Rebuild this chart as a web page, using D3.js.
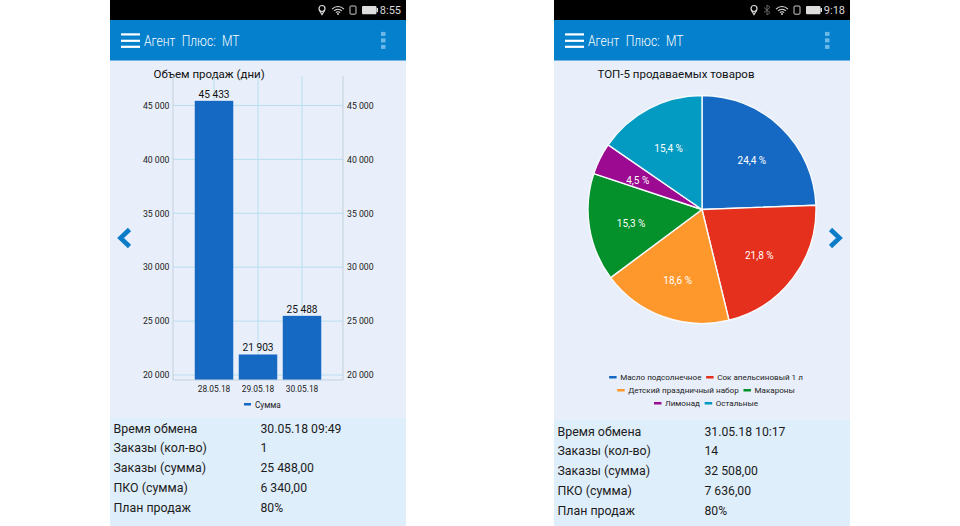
<!DOCTYPE html>
<html><head><meta charset="utf-8">
<script src="https://cdn.jsdelivr.net/npm/d3@7"></script>
<style>html,body{margin:0;padding:0;background:#fff}svg{display:block}text{font-family:Roboto,sans-serif}</style>
</head><body><svg id="c" width="960" height="526"></svg>
<script>
const barDates = ["28.05.18","29.05.18","30.05.18"];
const barValues = [45433,21903,25488];
const yTicks = [20000,25000,30000,35000,40000,45000];
const barSeries = "Сумма";
const pieNames = ["Масло подсолнечное","Сок апельсиновый 1 л","Детский праздничный набор","Макароны","Лимонад","Остальные"];
const pieValues = [24.4,21.8,18.6,15.3,4.5,15.4];
const pieColors = ["#1569c2","#e4301c","#ff982c","#04902a","#9b0a90","#039bc2"];
const legendRows = [[0,1],[2,3],[4,5]];
const rowLabels = ["Время обмена","Заказы (кол-во)","Заказы (сумма)","ПКО (сумма)","План продаж"];
const leftInfo = ["30.05.18 09:49","1","25 488,00","6 340,00","80%"];
const rightInfo = ["31.05.18 10:17","14","32 508,00","7 636,00","80%"];
const fmt = v => d3.format(",")(v).replace(/,/g," ");
const svg = d3.select("#c");

function phone(x0, w, time, title, infoY, info, bt){
  const g = svg.append("g");
  g.append("rect").attr("x",x0).attr("y",0).attr("width",w).attr("height",526).attr("fill","#e8effa");
  g.append("rect").attr("x",x0).attr("y",0).attr("width",w).attr("height",20).attr("fill","#000");
  g.append("rect").attr("x",x0).attr("y",20).attr("width",w).attr("height",40.5).attr("fill","#0480cc");
  g.append("text").attr("x",x0+291).attr("y",14).attr("text-anchor","end").attr("font-size",11).attr("fill","#d8d8d8").text(time);
  // status icons
  const ix = x0+(bt?200:212);
  g.append("circle").attr("cx",ix).attr("cy",8.5).attr("r",3).attr("fill","none").attr("stroke","#ddd").attr("stroke-width",1.2);
  g.append("path").attr("d",`M${ix-2.6} 10.3L${ix} 14.5L${ix+2.6} 10.3`).attr("fill","none").attr("stroke","#ddd").attr("stroke-width",1.2);
  const wc = x0+228;
  [8,5.3,2.8].forEach(r=>g.append("path")
    .attr("d",`M${wc-r*0.74} ${14.5-r*0.67}A${r} ${r} 0 0 1 ${wc+r*0.74} ${14.5-r*0.67}`)
    .attr("fill","none").attr("stroke","#ddd").attr("stroke-width",1.1));
  g.append("circle").attr("cx",wc).attr("cy",14).attr("r",0.9).attr("fill","#ddd");
  g.append("rect").attr("x",x0+240).attr("y",6).attr("width",6).attr("height",8.2).attr("rx",1).attr("fill","none").attr("stroke","#ccc").attr("stroke-width",1);
  g.append("rect").attr("x",x0+252).attr("y",6).attr("width",14.5).attr("height",8.2).attr("rx",1).attr("fill","#ddd");
  g.append("rect").attr("x",x0+266.5).attr("y",8).attr("width",1.5).attr("height",4).attr("fill","#ddd");
  if(bt) g.append("path").attr("d",`M${x0+210} 7.5L${x0+216} 12.5L${x0+213} 15V5L${x0+216} 7.5L${x0+210} 12.5`).attr("fill","none").attr("stroke","#666").attr("stroke-width",1);
  // menu
  [34.3,40.7,46.7].forEach(y=>g.append("rect").attr("x",x0+11).attr("y",y-1).attr("width",19).attr("height",2.2).attr("fill","#fff"));
  g.append("text").attr("x",x0+34).attr("y",45.5).attr("font-size",14.5).attr("font-family","'Open Sans',sans-serif").attr("font-weight",300).attr("fill","#fff")
    .attr("word-spacing",4).attr("textLength",95.5).attr("lengthAdjust","spacingAndGlyphs").text("Агент Плюс: МТ");
  [33.5,40,46.5].forEach(y=>g.append("rect").attr("x",x0+271).attr("y",y-1.6).attr("width",4.5).attr("height",4).attr("fill","#6cb8e8"));
  g.append("text").attr("x",x0+43.5).attr("y",77.5).attr("font-size",11.5).attr("fill","#111").text(title);
  // info
  g.append("rect").attr("x",x0).attr("y",infoY).attr("width",w).attr("height",526-infoY).attr("fill","#dfeefb");
  rowLabels.forEach((t,i)=>{
    const yy = infoY+14.5+(bt?1:0)+i*19.75;
    g.append("text").attr("x",x0+3.5).attr("y",yy).attr("font-size",12.4).attr("fill","#1c1c1c").text(t);
    g.append("text").attr("x",x0+150.5).attr("y",yy).attr("font-size",12.2).attr("fill","#1c1c1c").text(info[i]);
  });
}
phone(110,296,"8:55","Объем продаж (дни)",418,leftInfo,false);
phone(554,296,"9:18","ТОП-5 продаваемых товаров",420,rightInfo,true);

// Bar chart
const y = d3.scaleLinear().domain([20000,45000]).range([375,105.5]);
const x = d3.scaleBand().domain(barDates).range([192,324]).paddingInner(0.125).paddingOuter(0.0625);
const baseY = 380, topY = 76, L = 173, R = 343;
const b = svg.append("g");
b.selectAll("line.h").data(yTicks).join("line").attr("class","h")
  .attr("x1",L).attr("x2",R).attr("y1",d=>y(d)).attr("y2",d=>y(d)).attr("stroke","#b8def0").attr("stroke-width",1);
b.selectAll("line.v").data(barDates).join("line").attr("class","v")
  .attr("x1",d=>x(d)+x.bandwidth()/2).attr("x2",d=>x(d)+x.bandwidth()/2).attr("y1",topY).attr("y2",baseY)
  .attr("stroke","#b8def0").attr("stroke-width",1);
b.selectAll("rect.bar").data(barDates).join("rect").attr("class","bar")
  .attr("x",d=>x(d)).attr("width",x.bandwidth())
  .attr("y",(d,i)=>y(barValues[i])).attr("height",(d,i)=>baseY-y(barValues[i]))
  .attr("fill",pieColors[0]);
b.selectAll("text.val").data(barDates).join("text").attr("class","val")
  .attr("x",d=>x(d)+x.bandwidth()/2).attr("y",(d,i)=>y(barValues[i])-3)
  .attr("text-anchor","middle").attr("font-size",10.2).attr("fill","#111").text((d,i)=>fmt(barValues[i]));
[L,R].forEach(px=>b.append("line").attr("x1",px).attr("x2",px).attr("y1",topY).attr("y2",baseY).attr("stroke","#c4d0de").attr("stroke-width",1));
b.append("line").attr("x1",L).attr("x2",R).attr("y1",baseY).attr("y2",baseY).attr("stroke","#c4d0de").attr("stroke-width",1.2);
const axL = d3.axisLeft(y).tickValues(yTicks).tickSize(0).tickPadding(4).tickFormat(fmt);
const axR = d3.axisRight(y).tickValues(yTicks).tickSize(0).tickPadding(4).tickFormat(fmt);
[[axL,L+0.5],[axR,R]].forEach(([a,px])=>{
  const g = svg.append("g").attr("transform",`translate(${px},0)`).call(a);
  g.select(".domain").remove();
  g.selectAll("text").attr("font-size",8.7).attr("font-family","Roboto,sans-serif").attr("fill","#222");
});
const axB = d3.axisBottom(x).tickSize(0).tickPadding(6);
const gb = svg.append("g").attr("transform",`translate(0,${baseY})`).call(axB);
gb.select(".domain").remove();
gb.selectAll("text").attr("font-size",8.4).attr("font-family","Roboto,sans-serif").attr("fill","#222");
svg.append("rect").attr("x",244).attr("y",403).attr("width",7).attr("height",2.5).attr("fill",pieColors[0]);
svg.append("text").attr("x",255).attr("y",408).attr("font-size",8.2).attr("fill","#222").text(barSeries);

// Pie
const pcx = 702, pcy = 209.5, rad = 114;
const pie = d3.pie().sort(null)(pieValues);
const arc = d3.arc().innerRadius(0).outerRadius(rad);
const lab = d3.arc().innerRadius(rad*0.63).outerRadius(rad*0.63);
const pg = svg.append("g").attr("transform",`translate(${pcx},${pcy})`);
pg.selectAll("path").data(pie).join("path").attr("d",arc).attr("fill",(d,i)=>pieColors[i]).attr("stroke","#f8fafd").attr("stroke-width",1.4);
pg.selectAll("text").data(pie).join("text")
  .attr("transform",d=>{const c=lab.centroid(d);return `translate(${c[0]},${c[1]+3})`;}).attr("dy","0.35em").attr("text-anchor","middle")
  .attr("font-size",10).attr("fill","#fff").text(d=>String(d.value).replace(".",",")+" %");

// Pie legend
const measure = svg.append("text").attr("font-size",8.1).attr("visibility","hidden");
legendRows.forEach((row,ri)=>{
  const wid = row.map(i=>{measure.text(pieNames[i]);return measure.node().getComputedTextLength();});
  const total = d3.sum(wid)+row.length*11+(row.length-1)*4.7;
  let cx = 706-total/2;
  const yy = 380+ri*13;
  row.forEach((i,k)=>{
    svg.append("rect").attr("x",cx).attr("y",yy-4).attr("width",7.5).attr("height",2.5).attr("fill",pieColors[i]);
    svg.append("text").attr("x",cx+11).attr("y",yy).attr("font-size",8.1).attr("fill","#222").text(pieNames[i]);
    cx += 11+wid[k]+4.7;
  });
});
measure.remove();

// Arrows
svg.append("path").attr("d","M129.5 229.5L120.5 238L129.5 246.5").attr("fill","none").attr("stroke","#0a7cc8").attr("stroke-width",4.6);
svg.append("path").attr("d","M830.5 229.5L839.5 238L830.5 246.5").attr("fill","none").attr("stroke","#0a7cc8").attr("stroke-width",4.6);
</script></body></html>
